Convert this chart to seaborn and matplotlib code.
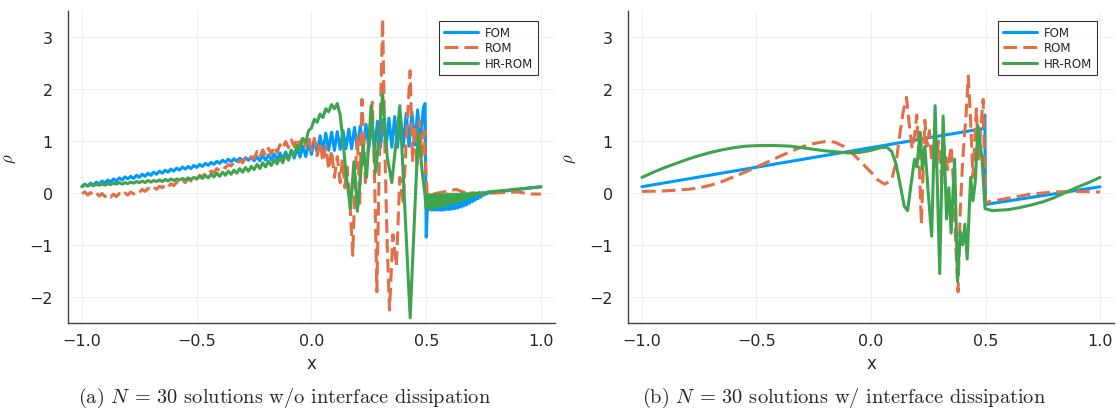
import numpy as np
import matplotlib
matplotlib.use("Agg")
import matplotlib.pyplot as plt
import seaborn as sns

# ---- data ----
# noisy stretches are read on an even sample grid (start, count, step);
# the rest as hand-picked (x, y) points

# (a) without interface dissipation
fom_a_band = (-1.0, 120, 0.0125)
fom_a_band_y = [
    0.12, 0.17, 0.13, 0.19, 0.15, 0.21, 0.17, 0.23, 0.19, 0.25,
    0.21, 0.27, 0.23, 0.29, 0.25, 0.31, 0.27, 0.32, 0.28, 0.34,
    0.30, 0.36, 0.32, 0.38, 0.34, 0.40, 0.36, 0.42, 0.38, 0.44,
    0.40, 0.46, 0.42, 0.48, 0.44, 0.50, 0.46, 0.51, 0.47, 0.53,
    0.49, 0.55, 0.51, 0.57, 0.53, 0.59, 0.55, 0.61, 0.57, 0.63,
    0.59, 0.65, 0.60, 0.66, 0.61, 0.67, 0.62, 0.68, 0.63, 0.69,
    0.62, 0.70, 0.62, 0.72, 0.63, 0.73, 0.64, 0.75, 0.64, 0.77,
    0.65, 0.79, 0.66, 0.82, 0.67, 0.86, 0.69, 0.90, 0.70, 0.96,
    0.74, 1.02, 0.78, 1.10, 0.80, 1.15, 0.82, 1.17, 0.82, 1.18,
    0.84, 1.20, 0.85, 1.23, 0.85, 1.26, 0.86, 1.29, 0.86, 1.32,
    0.86, 1.35, 0.87, 1.38, 0.87, 1.41, 0.88, 1.44, 0.88, 1.47,
    0.88, 1.50, 0.89, 1.53, 0.90, 1.56, 0.92, 1.60, 0.95, 1.65,
]
fom_a_shock_x = [0.495, 0.5]
fom_a_shock_y = [1.72, -0.85]
fom_a_tail = (0.50625, 40, 0.00625)
fom_a_tail_y = [
    -0.15, -0.32, -0.15, -0.33, -0.15, -0.33, -0.15, -0.33, -0.15, -0.33,
    -0.14, -0.33, -0.14, -0.32, -0.13, -0.32, -0.13, -0.31, -0.12, -0.30,
    -0.11, -0.29, -0.10, -0.27, -0.09, -0.25, -0.08, -0.23, -0.07, -0.20,
    -0.06, -0.17, -0.05, -0.14, -0.04, -0.11, -0.03, -0.08, -0.02, -0.04,
]
fom_a_end_x = [0.77, 1.0]
fom_a_end_y = [0.0, 0.12]

rom_a_band = (-1.0, 90, 0.0125)
rom_a_band_y = [
    -0.01, 0.02, -0.04, 0.01, -0.05, 0.00, -0.06, -0.01, -0.07, -0.02,
    -0.08, -0.02, -0.07, -0.01, -0.06, 0.00, -0.04, 0.02, -0.02, 0.04,
    0.01, 0.07, 0.03, 0.09, 0.05, 0.11, 0.07, 0.13, 0.10, 0.16,
    0.11, 0.18, 0.14, 0.21, 0.17, 0.24, 0.20, 0.28, 0.23, 0.31,
    0.27, 0.34, 0.31, 0.38, 0.35, 0.42, 0.39, 0.47, 0.43, 0.51,
    0.48, 0.55, 0.52, 0.59, 0.55, 0.63, 0.58, 0.67, 0.62, 0.70,
    0.66, 0.80, 0.69, 0.83, 0.72, 0.86, 0.75, 0.90, 0.78, 0.93,
    0.85, 0.99, 0.87, 1.02, 0.89, 1.06, 0.91, 1.10, 0.90, 1.10,
    0.82, 1.05, 0.72, 0.98, 0.60, 0.90, 0.45, 0.82, 0.30, 0.70,
]
rom_a_rest_x = [0.125, 0.135, 0.145, 0.155, 0.165, 0.18, 0.19, 0.20, 0.21, 0.22, 0.235, 0.25, 0.265, 0.275,
                0.285, 0.295, 0.31, 0.32, 0.33, 0.34, 0.355, 0.37, 0.385, 0.40, 0.415, 0.43, 0.44, 0.45,
                0.46, 0.47, 0.48, 0.49, 0.50, 0.505, 0.55, 0.60, 0.63, 0.66, 0.70, 0.75, 0.80, 0.90, 0.95, 1.0]
rom_a_rest_y = [0.20, 0.65, 0.10, 0.50, 0.00, -1.20, 0.30, 1.10, -0.20, 1.80, 0.20, 1.00, 1.75, 0.30,
                -1.90, 0.50, 3.35, 0.80, -1.00, -2.25, -0.80, -1.40, 0.30, -0.20, 1.20, 2.35, 0.60, 1.30,
                0.50, 1.40, 0.70, 1.20, 0.30, -0.05, 0.00, 0.04, 0.07, 0.02, 0.00, -0.02, 0.00, 0.02, -0.02, -0.02]

hr_a_band = (-1.0, 90, 0.0125)
hr_a_band_y = [
    0.13, 0.16, 0.14, 0.16, 0.14, 0.17, 0.15, 0.17, 0.15, 0.18,
    0.16, 0.19, 0.17, 0.20, 0.17, 0.20, 0.18, 0.21, 0.19, 0.22,
    0.20, 0.23, 0.20, 0.24, 0.21, 0.24, 0.22, 0.25, 0.22, 0.26,
    0.23, 0.27, 0.24, 0.27, 0.25, 0.28, 0.25, 0.29, 0.26, 0.30,
    0.27, 0.32, 0.28, 0.34, 0.29, 0.36, 0.31, 0.38, 0.32, 0.40,
    0.34, 0.42, 0.36, 0.44, 0.38, 0.47, 0.40, 0.49, 0.42, 0.51,
    0.45, 0.55, 0.47, 0.58, 0.50, 0.61, 0.53, 0.64, 0.56, 0.68,
    0.58, 0.74, 0.63, 0.82, 0.72, 0.92, 0.84, 1.05, 0.98, 1.20,
    1.25, 1.42, 1.36, 1.52, 1.45, 1.62, 1.56, 1.70, 1.62, 1.72,
]
hr_a_mid_x = [0.125, 0.135, 0.15, 0.17, 0.185, 0.20, 0.225, 0.24, 0.26, 0.28, 0.31, 0.33, 0.35, 0.385,
              0.43, 0.465, 0.485, 0.495, 0.50]
hr_a_mid_y = [1.50, 1.10, 0.40, -0.30, 0.60, -0.35, 0.90, 0.30, 1.68, 0.40, 1.90, 0.70, 0.20, 1.68,
              -2.40, 1.18, 0.30, -0.05, -0.30]
hr_a_tail = (0.50625, 40, 0.00625)
hr_a_tail_y = [
    -0.03, -0.30, -0.03, -0.29, -0.03, -0.28, -0.03, -0.27, -0.03, -0.26,
    -0.03, -0.25, -0.03, -0.23, -0.02, -0.22, -0.02, -0.20, -0.02, -0.19,
    -0.02, -0.17, -0.02, -0.15, -0.01, -0.13, -0.01, -0.11, -0.01, -0.09,
    0.00, -0.07, 0.00, -0.05, 0.00, -0.03, 0.01, -0.02, 0.01, 0.00,
]
hr_a_end_x = [0.77, 1.0]
hr_a_end_y = [0.02, 0.12]

# (b) with interface dissipation
fom_b_x = [-1.0, 0.49, 0.497, 0.5, 1.0]
fom_b_y = [0.12, 1.24, 1.50, -0.22, 0.12]

rom_b_x = [-1.0, -0.9, -0.8, -0.75, -0.7, -0.65, -0.6, -0.55, -0.5, -0.45, -0.4, -0.35, -0.3, -0.25, -0.2,
           -0.16, -0.12, -0.08, -0.04, 0.0, 0.03, 0.06, 0.09, 0.11, 0.125, 0.14, 0.155, 0.17, 0.18, 0.19,
           0.2, 0.21, 0.22, 0.235, 0.245, 0.255, 0.265, 0.275, 0.285, 0.295, 0.31, 0.32, 0.335, 0.35,
           0.36, 0.37, 0.38, 0.39, 0.4, 0.415, 0.425, 0.435, 0.445, 0.46, 0.47, 0.48, 0.49, 0.495, 0.5,
           0.6, 0.7, 0.8, 0.9, 1.0]
rom_b_y = [0.03, 0.04, 0.07, 0.10, 0.15, 0.22, 0.31, 0.40, 0.50, 0.60, 0.70, 0.80, 0.89, 0.95, 0.99,
           0.98, 0.90, 0.76, 0.58, 0.40, 0.25, 0.17, 0.25, 0.60, 1.10, 1.55, 1.84, 1.20, 0.85, 1.10,
           1.50, 0.65, -0.60, 1.40, 0.90, 1.20, 0.60, 1.00, 0.50, 1.00, 0.20, 0.90, 0.45, 0.90,
           0.20, -1.00, -1.90, -0.30, 0.60, 1.50, 2.25, 1.40, 0.30, 1.62, 0.65, 1.30, 1.80, 0.60, -0.18,
           -0.10, -0.02, 0.02, 0.03, 0.02]

hr_b_x = [-1.0, -0.95, -0.9, -0.85, -0.8, -0.75, -0.7, -0.65, -0.6, -0.55, -0.5, -0.45, -0.4, -0.35, -0.3,
          -0.25, -0.2, -0.15, -0.1, -0.05, 0.0, 0.04, 0.07, 0.09, 0.11, 0.13, 0.145, 0.16, 0.17, 0.18,
          0.19, 0.2, 0.215, 0.225, 0.235, 0.25, 0.265, 0.28, 0.29, 0.3, 0.315, 0.33, 0.34, 0.35, 0.365,
          0.378, 0.39, 0.4, 0.41, 0.42, 0.435, 0.445, 0.455, 0.467, 0.485, 0.498, 0.53, 0.6, 0.65, 0.7,
          0.75, 0.8, 0.855, 0.9, 0.95, 1.0]
hr_b_y = [0.30, 0.40, 0.49, 0.57, 0.65, 0.72, 0.78, 0.83, 0.87, 0.90, 0.91, 0.915, 0.91, 0.90, 0.87,
          0.84, 0.81, 0.79, 0.77, 0.78, 0.82, 0.87, 0.88, 0.80, 0.55, 0.10, -0.25, -0.34, 0.0, 0.33,
          0.65, 0.50, 1.17, 0.45, 0.90, 0.0, -0.83, 1.68, 0.10, -1.55, 1.48, -0.50, 0.10, -0.77, 0.65,
          -1.70, -0.75, -1.00, -0.60, -1.27, 0.30, -0.15, 0.20, 1.29, 0.65, -0.30, -0.34, -0.32, -0.28, -0.23,
          -0.17, -0.09, 0.02, 0.11, 0.20, 0.30]

labels = ["FOM", "ROM", "HR-ROM"]
colors = ["#009AFA", "#E36F47", "#3EA44E"]
captions = [r"(a) $N$ = 30 solutions w/o interface dissipation",
            r"(b) $N$ = 30 solutions w/ interface dissipation"]
xticks = [-1.0, -0.5, 0.0, 0.5, 1.0]
yticks = [-2, -1, 0, 1, 2, 3]


def grid(spec):
    start, n, step = spec
    return start + step * np.arange(n)


def join(*parts):
    xs = np.concatenate([np.asarray(p[0], float) for p in parts])
    ys = np.concatenate([np.asarray(p[1], float) for p in parts])
    return xs, ys


fom_a = join((grid(fom_a_band), fom_a_band_y), (fom_a_shock_x, fom_a_shock_y),
             (grid(fom_a_tail), fom_a_tail_y), (fom_a_end_x, fom_a_end_y))
rom_a = join((grid(rom_a_band), rom_a_band_y), (rom_a_rest_x, rom_a_rest_y))
hr_a = join((grid(hr_a_band), hr_a_band_y), (hr_a_mid_x, hr_a_mid_y),
            (grid(hr_a_tail), hr_a_tail_y), (hr_a_end_x, hr_a_end_y))
fom_b = join((fom_b_x, fom_b_y))
rom_b = join((rom_b_x, rom_b_y))
hr_b = join((hr_b_x, hr_b_y))

sns.set_theme(style="white")
plt.rcParams['font.family'] = ['DejaVu Sans']
plt.rcParams['mathtext.fontset'] = 'cm'

fig = plt.figure(figsize=(11.16, 4.10), dpi=100)
ax1 = fig.add_axes([0.0609, 0.2098, 0.4364, 0.7609])
ax2 = fig.add_axes([0.5627, 0.2098, 0.4355, 0.7609])

for ax, series in [(ax1, [fom_a, rom_a, hr_a]), (ax2, [fom_b, rom_b, hr_b])]:
    for (xs, ys), lab, col in zip(series, labels, colors):
        if lab == "ROM":
            kw = dict(linestyle=(0, (4.5, 2.0)))
        else:
            kw = dict(solid_joinstyle='round')
        sns.lineplot(x=xs, y=ys, ax=ax, sort=False, estimator=None,
                     color=col, lw=2.2, label=lab, **kw)
    ax.set_xlim(-1.061, 1.061)
    ax.set_ylim(-2.5, 3.5)
    ax.set_xticks(xticks)
    ax.set_yticks(yticks)
    ax.grid(True, color='#ececec', lw=0.6)
    ax.set_axisbelow(True)
    for s in ['top', 'right']:
        ax.spines[s].set_visible(False)
    for s in ['left', 'bottom']:
        ax.spines[s].set_color('#444444')
        ax.spines[s].set_linewidth(1.0)
    ax.tick_params(axis='both', direction='in', length=4, width=0.8, color='#222222', labelsize=11.5)
    ax.tick_params(axis='y', pad=11)
    ax.tick_params(axis='x', pad=7)
    ax.set_xlabel("x", fontsize=12)
    ax.set_ylabel(r"$\rho$", fontsize=12)
    ax.xaxis.set_label_coords(0.5, -0.1)
    ax.yaxis.set_label_coords(-0.103, 0.53)
    leg = ax.legend(loc='upper right', bbox_to_anchor=(0.965, 0.968), borderaxespad=0,
                    fontsize=8.5, handlelength=2.9, labelspacing=0.22, fancybox=False,
                    frameon=True, borderpad=0.4, handletextpad=0.6)
    leg.get_frame().set_edgecolor('black')
    leg.get_frame().set_linewidth(0.8)

fig.text(285 / 1116, 1 - 398 / 410, captions[0], family='cmr10', fontsize=14.7, ha='center', va='center')
fig.text(844 / 1116, 1 - 398 / 410, captions[1], family='cmr10', fontsize=14.7, ha='center', va='center')

fig.savefig("out.png", dpi=100)
